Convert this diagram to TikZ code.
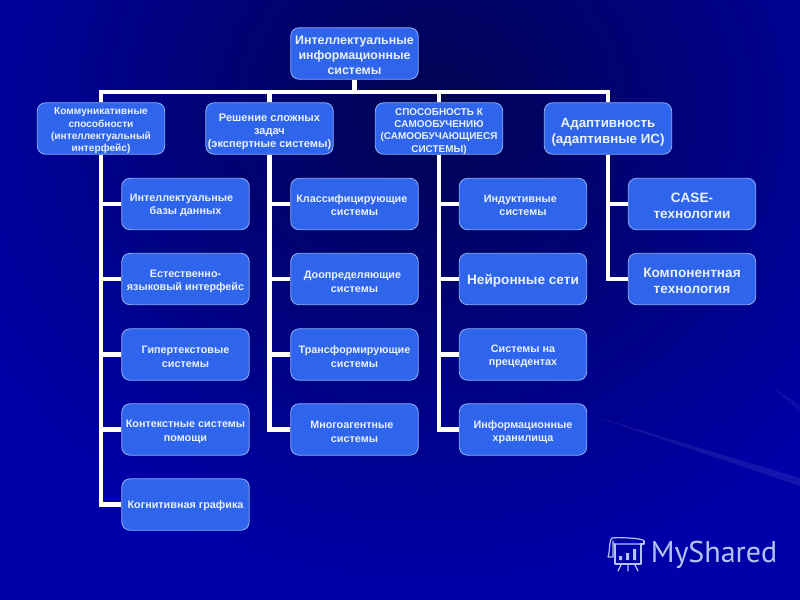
\documentclass[tikz,border=0pt]{standalone}
\usepackage{fontspec}
\setmainfont{Liberation Sans}
\newfontfamily\logofont{PT Sans}
\definecolor{boxfill}{HTML}{2F65EC}
\definecolor{boxline}{HTML}{8FB0F5}
\definecolor{txt}{HTML}{EAF1FF}
\definecolor{bgdark}{HTML}{000450}
\definecolor{bgbright}{HTML}{0000A8}
\definecolor{logoc}{HTML}{B4C4F2}
\newcommand{\dn}[1]{\rule{0pt}{\dimexpr 0.74em+#1pt*3/2\relax}}
\tikzset{
  x=0.75pt,y=-0.75pt,
  ibox/.style={draw=boxline,line width=0.6pt,fill=boxfill,rounded corners=6pt,
    minimum width=95.5pt,minimum height=38.5pt,inner sep=0pt,text=txt,align=center},
  conn/.style={draw=white,line width=3.5pt,line cap=butt,line join=miter},
  fs/.style 2 args={font=\fontsize{#1}{#2}\selectfont\bfseries},
  fb/.style={fs={8.1}{9.9}},
  fd/.style={fs={10.2}{12}},
  logol/.style={draw=logoc,line width=0.9pt,line cap=round,line join=round}
}
\begin{document}
\begin{tikzpicture}
\useasboundingbox (0,0) rectangle (800,600);
\fill[bgbright] (0,0) rectangle (800,600);
\begin{scope}
\clip (0,0) rectangle (800,600);
\shade[inner color=bgdark,outer color=bgbright] (430,110) ellipse (520 and 480);
\fill[white,opacity=.08] (590,415) -- (800,478) -- (800,486) -- cycle;
\fill[white,opacity=.05] (770,385) -- (800,405) -- (800,412) -- cycle;
\end{scope}
\node[ibox,fs={9.3}{11}] (root) at (354.5,53.5) {\dn{1.5}Интеллектуальные\\информационные\\системы};
\node[ibox,fs={7.6}{9.2}] (l1) at (101,128.5) {\dn{2}Коммуникативные\\способности\\(интеллектуальный\\интерфейс)};
\node[ibox,fs={8.3}{10}] (l2) at (269.5,128.5) {\dn{3}Решение сложных\\задач\\(экспертные системы)};
\node[ibox,fs={7.45}{9.2}] (l3) at (439,128.5) {\dn{2.5}СПОСОБНОСТЬ К\\САМООБУЧЕНИЮ\\(САМООБУЧАЮЩИЕСЯ\\СИСТЕМЫ)};
\node[ibox,fs={10}{12}] (l4) at (608,128.5) {\dn{3.5}Адаптивность\\(адаптивные ИС)};
\node[ibox,fb] (a1) at (185.5,204) {\dn{1}Интеллектуальные\hspace*{6pt}\\базы данных};
\node[ibox,fb] (a2) at (185.5,279) {\dn{2.5}Естественно-\\языковый интерфейс};
\node[ibox,fb] (a3) at (185.5,354.5) {\dn{2}Гипертекстовые\\системы};
\node[ibox,fb] (a4) at (185.5,429.5) {\dn{2}Контекстные системы\\помощи};
\node[ibox,fb] (a5) at (185.5,504.5) {\dn{1}Когнитивная графика};
\node[ibox,fb] (b1) at (354.5,204) {\dn{1}Классифицирующие\hspace*{4pt}\\системы};
\node[ibox,fb] (b2) at (354.5,279) {\dn{2.5}Доопределяющие\hspace*{3pt}\\системы};
\node[ibox,fb] (b3) at (354.5,354.5) {\dn{2}Трансформирующие\\системы};
\node[ibox,fb] (b4) at (354.5,429.5) {\dn{2}Многоагентные\hspace*{4pt}\\системы};
\node[ibox,fb] (c1) at (523,204) {\dn{1}Индуктивные\hspace*{4pt}\\системы};
\node[ibox,fd] (c2) at (523,279) {\dn{1.5}Нейронные сети};
\node[ibox,fb] (c3) at (523,354.5) {\dn{2}Системы на\\прецедентах};
\node[ibox,fb] (c4) at (523,429.5) {\dn{2.5}Информационные\\хранилища};
\node[ibox,fd] (d1) at (692,204) {\dn{1.5}CASE-\\технологии};
\node[ibox,fd] (d2) at (692,279) {\dn{1.5}Компонентная\\технология};
\coordinate (bus) at (355,92);
\draw[conn] (root.south) -- (root.south |- bus);
\draw[conn] (l1.north) |- (bus) -| (l4.north);
\draw[conn] (l2.north) -- (l2.north |- bus);
\draw[conn] (l3.north) -- (l3.north |- bus);
\foreach \p/\c in {l1/a1,l1/a2,l1/a3,l1/a4,l1/a5,l2/b1,l2/b2,l2/b3,l2/b4,l3/c1,l3/c2,l3/c3,l3/c4,l4/d1,l4/d2}{
  \draw[conn] (\p.south) |- (\c.west);
}
% logo
\draw[logol] (614,544) -- (640,544) (644,541) .. controls (644,538) and (615,537) .. (612,538) .. controls (609,540) and (610,552) .. (608,557) -- (613,557) -- (613,541);
\draw[logol] (615,544) -- (615,564) -- (641,564) -- (641,544);
\draw[logol] (644,541) -- (644,544) -- (640,544);
\fill[logoc] (619,556) rectangle (622,560) (626,553) rectangle (629,560) (633,549) rectangle (636,560);
\draw[logol] (621,565) -- (618,571) (628,565) -- (628,571) (635,565) -- (638,571);
\node[font=\logofont\fontsize{22.5}{24}\selectfont,text=logoc,inner sep=0pt,anchor=west] (logo) at (650.5,555) {MyShared};
\end{tikzpicture}
\end{document}
